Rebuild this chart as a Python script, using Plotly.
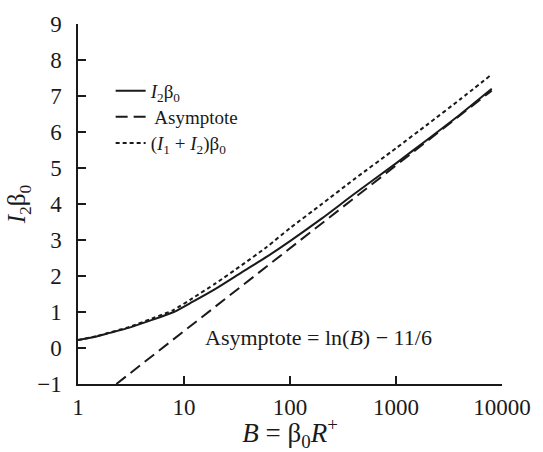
import plotly.graph_objects as go

# Data
B_vals = [1, 1.5, 2, 3, 5, 8, 12, 20, 35, 60, 100, 200, 400, 1000, 2000, 4000, 8000]
I2_beta0 = [0.22, 0.32, 0.42, 0.56, 0.78, 1.0, 1.28, 1.65, 2.1, 2.53, 2.97, 3.6, 4.27, 5.13, 5.8, 6.48, 7.2]
I1I2_beta0 = [0.22, 0.33, 0.43, 0.58, 0.82, 1.06, 1.38, 1.8, 2.3, 2.8, 3.33, 4.0, 4.68, 5.55, 6.22, 6.9, 7.6]
asym_B = [2.3, 8000]
asym_vals = [-1.0, 7.15]

x_ticks = [1, 10, 100, 1000, 10000]
x_ticktext = ["1", "10", "100", "1000", "10000"]
y_ticks = [-1, 0, 1, 2, 3, 4, 5, 6, 7, 8, 9]
y_ticktext = ["\u22121", "0", "1", "2", "3", "4", "5", "6", "7", "8", "9"]

FONT = "Liberation Serif"
INK = "#1a1a1a"

fig = go.Figure()
fig.add_trace(go.Scatter(x=B_vals, y=I2_beta0, mode="lines",
                         name="<i>I</i><sub>2</sub>β<sub>0</sub>", legend="legend",
                         line=dict(color=INK, width=2, shape="spline", smoothing=0.6)))
fig.add_trace(go.Scatter(x=asym_B, y=asym_vals, mode="lines",
                         name=" Asymptote", legend="legend2",
                         line=dict(color=INK, width=2, dash="12px,6px")))
fig.add_trace(go.Scatter(x=B_vals, y=I1I2_beta0, mode="lines",
                         name="(<i>I</i><sub>1</sub> + <i>I</i><sub>2</sub>)β<sub>0</sub>", legend="legend3",
                         line=dict(color=INK, width=2, dash="4px,3px", shape="spline", smoothing=0.6)))

fig.add_annotation(x=1.181, y=0.3, xref="x", yref="y", xanchor="left", yanchor="middle",
                   text="Asymptote = ln(<i>B</i>) − 11/6", showarrow=False,
                   font=dict(family=FONT, size=22, color=INK))

leg_common = dict(xanchor="left", yanchor="middle", bgcolor="rgba(0,0,0,0)",
                  font=dict(family=FONT, size=19, color=INK), itemwidth=30)
fig.update_layout(
    width=543, height=452,
    margin=dict(l=78, r=35, t=24, b=68),
    paper_bgcolor="white", plot_bgcolor="white",
    font=dict(family=FONT, size=23, color=INK),
    showlegend=True,
    legend=dict(x=0.077, y=0.814, **leg_common),
    legend2=dict(x=0.077, y=0.742, **leg_common),
    legend3=dict(x=0.077, y=0.669, **leg_common),
)
fig.update_xaxes(type="log", range=[0, 4], tickvals=x_ticks, ticktext=x_ticktext,
                 ticks="inside", ticklen=8, tickwidth=1.5, tickcolor=INK,
                 showline=True, linecolor=INK, linewidth=1.5, mirror=False,
                 showgrid=False, zeroline=False, ticklabelstandoff=2,
                 tickfont=dict(family=FONT, size=23, color=INK),
                 title=dict(text="<i>B</i> = β<sub>0</sub><i>R</i><sup>+</sup>", standoff=1,
                            font=dict(family=FONT, size=27, color=INK)))
fig.update_yaxes(range=[-1, 9], tickvals=y_ticks, ticktext=y_ticktext,
                 ticks="inside", ticklen=8, tickwidth=1.5, tickcolor=INK,
                 showline=True, linecolor=INK, linewidth=1.5, mirror=False,
                 showgrid=False, zeroline=False, ticklabelstandoff=10,
                 tickfont=dict(family=FONT, size=23, color=INK),
                 title=dict(text="<i>I</i><sub>2</sub>β<sub>0</sub>", standoff=4,
                            font=dict(family=FONT, size=25, color=INK)))

fig.write_html("out.html")
